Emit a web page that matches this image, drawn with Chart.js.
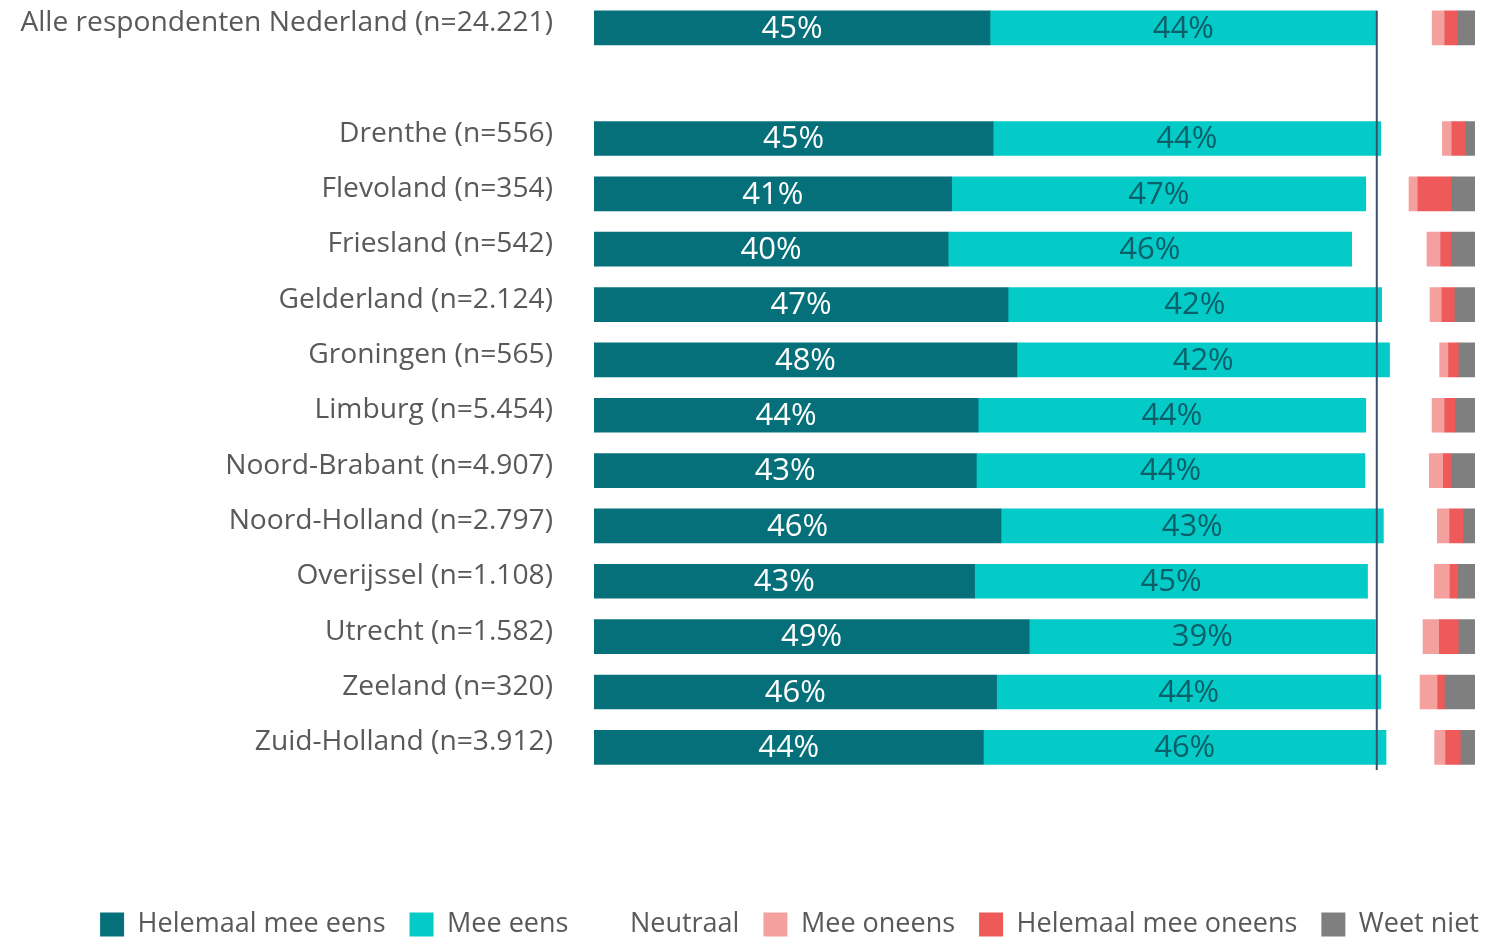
<!DOCTYPE html>
<html><head><meta charset="utf-8">
<script src="https://cdn.jsdelivr.net/npm/chart.js@4/dist/chart.umd.min.js"></script>
<style>html,body{margin:0;padding:0;background:#fff;overflow:hidden}#wrap{width:1504px;height:938px;position:relative}</style>
</head><body><div id="wrap"><canvas id="c"></canvas></div>
<script>
const categories = ["Alle respondenten Nederland (n=24.221)", "", "Drenthe (n=556)", "Flevoland (n=354)", "Friesland (n=542)", "Gelderland (n=2.124)", "Groningen (n=565)", "Limburg (n=5.454)", "Noord-Brabant (n=4.907)", "Noord-Holland (n=2.797)", "Overijssel (n=1.108)", "Utrecht (n=1.582)", "Zeeland (n=320)", "Zuid-Holland (n=3.912)"];
const helemaalMeeEens  = [44.95, null, 45.3, 40.6, 40.2, 47.0, 48.0, 43.6, 43.4, 46.2, 43.2, 49.4, 45.7, 44.2];
const meeEens          = [43.9,  null, 44.0, 47.0, 45.8, 42.4, 42.3, 44.0, 44.1, 43.4, 44.6, 39.3, 43.6, 45.7];
const neutraal         = [6.29,  null, 7.0,  4.91, 8.55, 5.49, 5.69, 7.53, 7.31, 6.12, 7.59, 5.4,  4.46, 5.52];
const meeOneens        = [1.36,  null, 1.0,  0.94, 1.48, 1.28, 0.94, 1.36, 1.52, 1.33, 1.7,  1.78, 1.93, 1.17];
const helemaalMeeOneens= [1.5,   null, 1.6,  3.86, 1.21, 1.48, 1.17, 1.21, 0.98, 1.59, 0.95, 2.22, 0.83, 1.74];
const weetNiet         = [2.0,   null, 1.1,  2.69, 2.76, 2.35, 1.9,  2.3,  2.69, 1.36, 1.96, 1.9,  3.48, 1.67];
const seriesNames = ["Helemaal mee eens", "Mee eens", "Neutraal", "Mee oneens", "Helemaal mee oneens", "Weet niet"];
const seriesColors = ["#06707a", "#04cbc8", "rgba(255,255,255,0)", "#f4a09f", "#ee5a5a", "#7f7f7f"];
const FONT = '"Open Sans", "Noto Sans", sans-serif';

const seriesData = [helemaalMeeEens, meeEens, neutraal, meeOneens, helemaalMeeOneens, weetNiet];

const segLabels = {
  id: 'segLabels',
  afterDatasetsDraw(chart) {
    const ctx = chart.ctx;
    [0, 1].forEach(di => {
      const meta = chart.getDatasetMeta(di);
      meta.data.forEach((el, i) => {
        const v = chart.data.datasets[di].data[i];
        if (v == null) return;
        const p = el.getProps(['x', 'y', 'base'], true);
        ctx.save();
        ctx.font = '31px ' + FONT;
        ctx.fillStyle = di === 0 ? '#ffffff' : '#0a5f68';
        ctx.textAlign = 'center';
        ctx.textBaseline = 'middle';
        ctx.fillText(Math.round(v) + '%', (p.x + p.base) / 2, p.y + 1);
        ctx.restore();
      });
    });
  }
};

const refLine = {
  id: 'refLine',
  afterDatasetsDraw(chart) {
    const xs = chart.scales.x;
    const x = xs.getPixelForValue(helemaalMeeEens[0] + meeEens[0]);
    const el = chart.getDatasetMeta(0).data[0];
    const top = el.y - el.height / 2;
    const ctx = chart.ctx;
    ctx.save();
    ctx.strokeStyle = '#3b506b';
    ctx.lineWidth = 2;
    ctx.beginPath();
    ctx.moveTo(x, top);
    ctx.lineTo(x, chart.chartArea.bottom - 5);
    ctx.stroke();
    ctx.restore();
  }
};

const legendShift = {
  id: 'legendShift',
  afterLayout(chart) {
    const lg = chart.legend;
    if (!lg) return;
    const dx = 52, dy = 10;
    lg.left += dx; lg.right += dx; lg.top += dy; lg.bottom += dy;
  }
};

new Chart(document.getElementById('c'), {
  type: 'bar',
  data: {
    labels: categories,
    datasets: seriesData.map((d, i) => ({
      label: seriesNames[i],
      data: d,
      backgroundColor: seriesColors[i],
      borderWidth: 0,
      barThickness: 34
    }))
  },
  options: {
    indexAxis: 'y',
    responsive: true,
    maintainAspectRatio: false,
    animation: false,
    layout: { padding: { top: 0, right: 29, bottom: 0, left: 0 } },
    scales: {
      x: {
        stacked: true, min: 0, max: 100,
        grid: { display: false }, border: { display: false },
        ticks: { display: false },
        afterFit(s) { s.height = 102; }
      },
      y: {
        stacked: true,
        grid: { display: false, drawTicks: true, tickLength: 41 }, border: { display: false },
        ticks: { color: '#595959', font: { family: FONT, size: 28.2, lineHeight: 0.01 }, padding: 0, labelOffset: -5, autoSkip: false },
        afterFit(s) { s.width = 594; }
      }
    },
    plugins: {
      tooltip: { enabled: false },
      legend: {
        position: 'bottom',
        labels: { color: '#595959', font: { family: FONT, size: 27 }, boxWidth: 24, boxHeight: 24, padding: 24 }
      }
    }
  },
  plugins: [segLabels, refLine, legendShift]
});
</script></body></html>
